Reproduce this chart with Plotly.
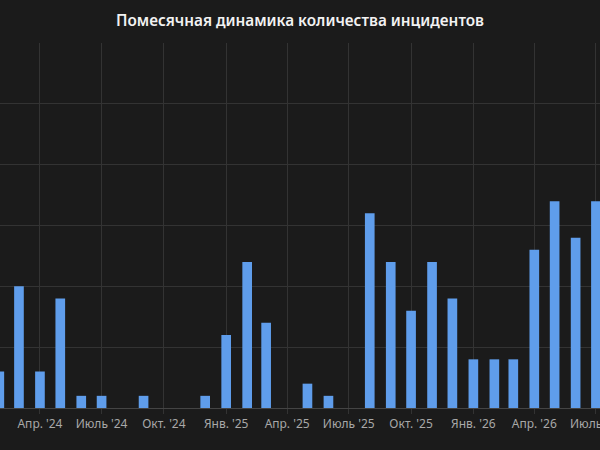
import plotly.graph_objects as go

months = ["2024-02-01", "2024-03-01", "2024-04-01", "2024-05-01", "2024-06-01", "2024-07-01",
          "2024-08-01", "2024-09-01", "2024-10-01", "2024-11-01", "2024-12-01",
          "2025-01-01", "2025-02-01", "2025-03-01", "2025-04-01", "2025-05-01", "2025-06-01",
          "2025-07-01", "2025-08-01", "2025-09-01", "2025-10-01", "2025-11-01", "2025-12-01",
          "2026-01-01", "2026-02-01", "2026-03-01", "2026-04-01", "2026-05-01", "2026-06-01",
          "2026-07-01"]
incidents = [3, 10, 3, 9, 1, 1,
             0, 1, 0, 0, 1,
             6, 12, 7, 0, 2, 1,
             0, 16, 12, 8, 12, 9,
             4, 4, 4, 13, 17, 14,
             17]

tick_vals = ["2024-04-01", "2024-07-01", "2024-10-01", "2025-01-01", "2025-04-01",
             "2025-07-01", "2025-10-01", "2026-01-01", "2026-04-01", "2026-07-01"]
tick_text = ["Апр. '24", "Июль '24", "Окт. '24", "Янв. '25", "Апр. '25",
             "Июль '25", "Окт. '25", "Янв. '26", "Апр. '26", "Июль '26"]

fig = go.Figure(go.Bar(x=months, y=incidents, marker=dict(color="#5f9deb", line=dict(width=0))))

fig.update_layout(
    width=600, height=450,
    paper_bgcolor="#1b1b1b", plot_bgcolor="#1b1b1b",
    margin=dict(l=0, r=0, t=43, b=42, autoexpand=False),
    bargap=0.49,
    showlegend=False,
    title=dict(text="Помесячная динамика количества инцидентов", x=0.5, xanchor="center",
               y=0.955, yanchor="middle",
               font=dict(family="Noto Sans", size=15.3, color="#f2f2f2", weight=600)),
    font=dict(family="Noto Sans", color="#a8a8a8", size=12),
)
fig.update_xaxes(
    type="date", range=["2024-02-02", "2026-07-07"],
    tickmode="array", tickvals=tick_vals, ticktext=tick_text,
    ticklabeloverflow="allow", automargin=False,
    showgrid=True, gridcolor="#333333", gridwidth=1,
    ticks="outside", ticklen=5, tickcolor="#333333",
    showline=True, linecolor="#444444", linewidth=1,
    tickfont=dict(size=12, color="#a8a8a8"),
)
fig.update_yaxes(
    range=[0, 30], dtick=5, showticklabels=False, automargin=False,
    showgrid=True, gridcolor="#333333", gridwidth=1, zeroline=False,
)

fig.write_html("out.html", config={"displayModeBar": False},
               post_script="document.body.style.margin='0';document.body.style.background='#1b1b1b';")
